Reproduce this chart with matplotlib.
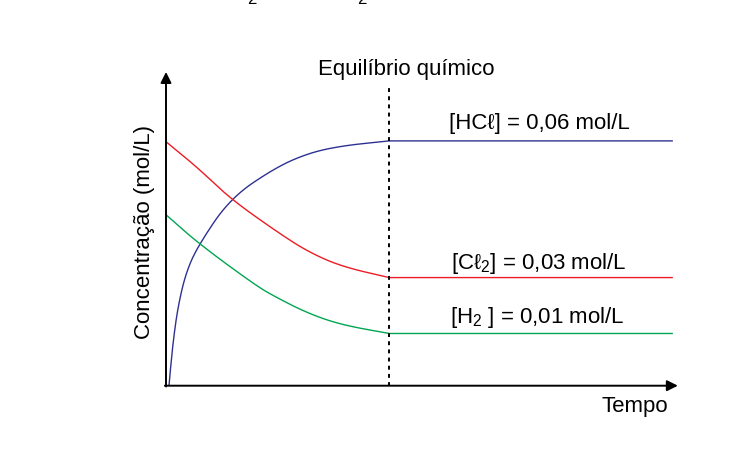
import numpy as np
import matplotlib
matplotlib.use("Agg")
import matplotlib.pyplot as plt

plt.rcParams['font.family'] = ['Liberation Sans', 'DejaVu Sans']
plt.rcParams['mathtext.default'] = 'regular'

# ---- data (schematic units) ----
t_eq = 4.0
t_end = 9.08
hcl_t = [0.054, 0.072, 0.131, 0.215, 0.353, 0.561, 1.147, 1.953, 2.549, 3.148, 4.0]
hcl_c = [0.0, 0.30, 1.12, 1.94, 2.75, 3.40, 4.59, 5.34, 5.70, 5.88, 6.0]
cl2_t = [0.0, 0.579, 1.147, 2.0, 2.549, 3.148, 4.0]
cl2_c = [5.98, 5.33, 4.59, 3.76, 3.28, 2.92, 2.65]
h2_t = [0.0, 0.579, 1.594, 1.953, 2.549, 3.148, 4.0]
h2_c = [4.19, 3.49, 2.47, 2.18, 1.77, 1.49, 1.28]

labels = ['[HC\u2113] = 0,06 mol/L', '[C\u2113$_2$] = 0,03 mol/L', '[H$_2$ ] = 0,01 mol/L']
colors = ['#2e3192', '#ed1c24', '#00a651']


def chaikin(x, y, it=5):
    """Corner-cutting smoothing used only to render the read points as a smooth stroke."""
    p = np.column_stack([x, y]).astype(float)
    for _ in range(it):
        q = 0.75 * p[:-1] + 0.25 * p[1:]
        r = 0.25 * p[:-1] + 0.75 * p[1:]
        mid = np.empty((2 * len(q), 2))
        mid[0::2] = q
        mid[1::2] = r
        p = np.vstack([p[:1], mid, p[-1:]])
    return p[:, 0], p[:, 1]


W, H = 748, 467
fig = plt.figure(figsize=(W / 100, H / 100), dpi=100)
x0, y0 = 166, 385.7
sx, sy = 55.82, 40.8
ax_left, ax_right, ax_top = 120, 700, 50
ax = fig.add_axes([ax_left / W, (H - 430) / H, (ax_right - ax_left) / W, (430 - ax_top) / H])
ax.set_xlim((ax_left - x0) / sx, (ax_right - x0) / sx)
ax.set_ylim((y0 - 430) / sy, (y0 - ax_top) / sy)
ax.axis('off')

for ts, cs, col in [(hcl_t, hcl_c, colors[0]), (cl2_t, cl2_c, colors[1]), (h2_t, h2_c, colors[2])]:
    tn, cn = chaikin(ts, cs)
    tn = np.append(tn, t_end)
    cn = np.append(cn, cs[-1])
    ax.plot(tn, cn, color=col, lw=1.0, solid_capstyle='butt')

# dotted equilibrium line
ax.plot([t_eq, t_eq], [0, 7.3], color='black', lw=1.4, ls=(0, (2, 2.2)))

# axes arrows
ax.annotate('', xy=(9.17, 0), xytext=(-0.02, 0),
            arrowprops=dict(arrowstyle='-|>', color='black', lw=1.4, mutation_scale=16, shrinkA=0, shrinkB=0))
ax.annotate('', xy=(0, 7.69), xytext=(0, -0.02),
            arrowprops=dict(arrowstyle='-|>', color='black', lw=1.4, mutation_scale=16, shrinkA=0, shrinkB=0))

fs = 16
ax.text(4.3, 7.76, 'Equil\u00edbrio qu\u00edmico', fontsize=fs, ha='center', va='center')
ax.text(6.68, 6.42, labels[0], fontsize=fs, ha='center', va='center')
ax.text(6.68, 3.0, labels[1], fontsize=fs, ha='center', va='center')
ax.text(6.65, 1.67, labels[2], fontsize=fs, ha='center', va='center')
ax.text(8.4, -0.52, 'Tempo', fontsize=fs, ha='center', va='center')
ax.text(-0.394, 3.76, 'Concentra\u00e7\u00e3o (mol/L)', fontsize=fs, ha='center', va='center', rotation=90)

# clipped fragments of text above the picture
fig.text(252 / W, 1 - 4 / H, '2', fontsize=12, ha='center', va='baseline')
fig.text(362 / W, 1 - 4 / H, '2', fontsize=12, ha='center', va='baseline')

fig.savefig('out.png', dpi=100)
